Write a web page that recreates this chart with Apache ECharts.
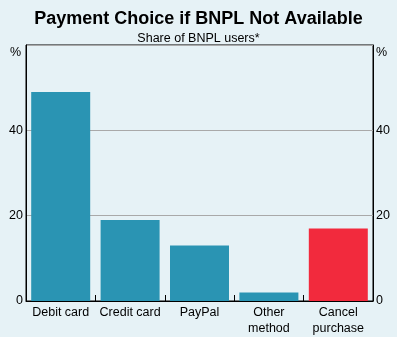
<!DOCTYPE html>
<html>
<head>
<meta charset="utf-8">
<script src="https://cdn.jsdelivr.net/npm/echarts@6/dist/echarts.min.js"></script>
<style>
html,body{margin:0;padding:0;background:#E6F2F6;}
#chart{width:397px;height:337px;}
</style>
</head>
<body>
<div id="chart"></div>
<script>
var categories = ['Debit card', 'Credit card', 'PayPal', 'Other\nmethod', 'Cancel\npurchase'];
var values = [49, 19, 13, 2, 17];
var yTicks = [0, 20, 40, 60];
var titleText = 'Payment Choice if BNPL Not Available';
var subtitleText = 'Share of BNPL users*';

var FONT = '"Liberation Sans", Arial, sans-serif';
var chart = echarts.init(document.getElementById('chart'), null, {renderer: 'canvas'});

var barData = values.map(function (v, i) {
  return {
    value: v,
    itemStyle: {color: i === values.length - 1 ? '#F22A3D' : '#2A94B3'}
  };
});

function yLabel(v) { return v === yTicks[yTicks.length - 1] ? '' : String(v); }

var yAxisBase = {
  type: 'value',
  min: yTicks[0],
  max: yTicks[yTicks.length - 1],
  interval: 20,
  axisLine: {show: true, lineStyle: {color: '#000', width: 1}},
  axisTick: {show: false},
  splitLine: {show: true, lineStyle: {color: '#A9A9A9', width: 1}},
  axisLabel: {formatter: yLabel, color: '#000', fontSize: 12.5, fontFamily: FONT, margin: 3}
};

chart.setOption({
  backgroundColor: '#E6F2F6',
  animation: false,
  title: [
    {text: titleText, left: 'center', top: 5,
     textStyle: {fontSize: 18, fontWeight: 'bold', color: '#000', fontFamily: FONT}},
    {text: subtitleText, left: 'center', top: 27,
     textStyle: {fontSize: 12.5, fontWeight: 'normal', color: '#000', fontFamily: FONT}}
  ],
  grid: {left: 26, right: 24, top: 45, bottom: 36, show: true, borderColor: '#000', borderWidth: 1, backgroundColor: 'transparent', containLabel: false},
  xAxis: {
    type: 'category',
    data: categories,
    axisLine: {show: true, lineStyle: {color: '#000', width: 1}},
    axisTick: {show: true, inside: true, length: 6, alignWithLabel: false, interval: 0, lineStyle: {color: '#000'}},
    axisLabel: {color: '#000', fontSize: 12.5, fontFamily: FONT, margin: 4, interval: 0, lineHeight: 16}
  },
  yAxis: [
    Object.assign({}, yAxisBase, {position: 'left'}),
    Object.assign({}, yAxisBase, {position: 'right', splitLine: {show: false}})
  ],
  graphic: [
    {type: 'text', left: 10, top: 46, style: {text: '%', fill: '#000', font: '12.5px ' + FONT}},
    {type: 'text', left: 376, top: 46, style: {text: '%', fill: '#000', font: '12.5px ' + FONT}}
  ],
  series: [{
    type: 'bar',
    data: barData,
    barCategoryGap: '15%',
    yAxisIndex: 0
  }]
});
</script>
</body>
</html>
